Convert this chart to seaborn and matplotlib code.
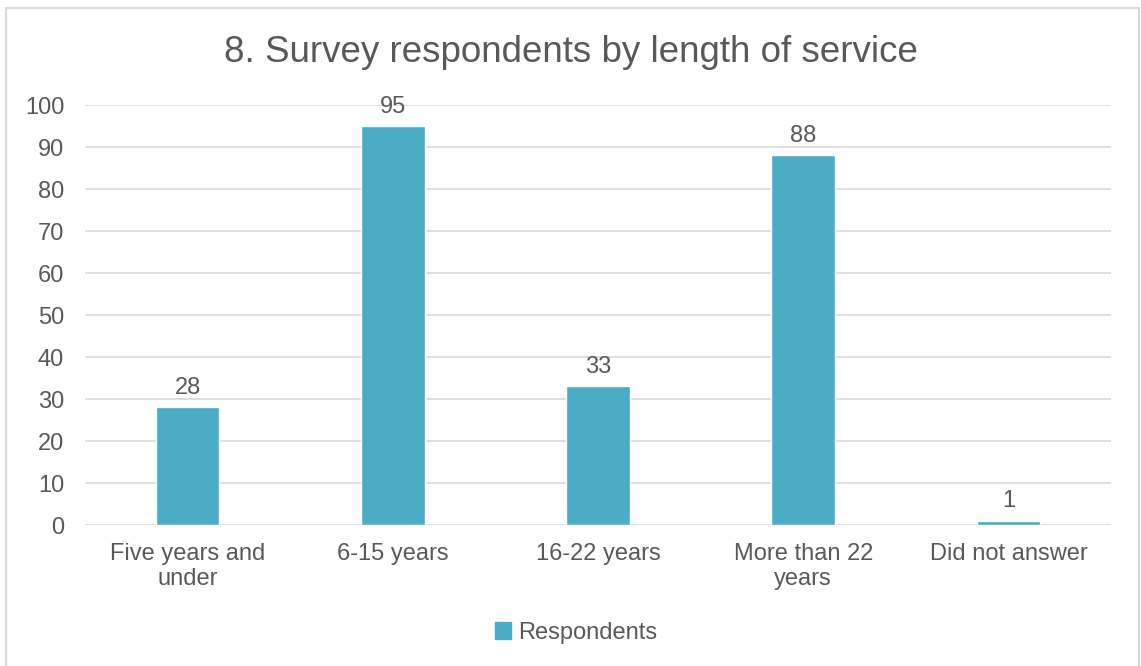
import matplotlib.pyplot as plt
import matplotlib.patches as mpatches
import seaborn as sns

# data
categories = ["Five years and\nunder", "6-15 years", "16-22 years", "More than 22\nyears", "Did not answer"]
respondents = [28, 95, 33, 88, 1]
series_name = "Respondents"
title = "8. Survey respondents by length of service"

bar_color = "#4BACC6"
text_color = "#595959"
grid_color = "#D9D9D9"

sns.set_theme(style="white")
plt.rcParams['font.family'] = ['Liberation Sans', 'DejaVu Sans']

fig = plt.figure(figsize=(11.41, 6.66), dpi=100)
ax = fig.add_axes([85 / 1141, 1 - 525 / 666, 1026 / 1141, 420 / 666])

sns.barplot(x=categories, y=respondents, color=bar_color, width=0.31,
            saturation=1, ax=ax)

ax.set_ylim(0, 100)
ax.set_yticks(range(0, 101, 10))
ax.yaxis.grid(True, color=grid_color, linewidth=1.2)
ax.set_axisbelow(True)
for s in ax.spines.values():
    s.set_visible(False)
ax.tick_params(axis='y', length=0, pad=15, labelsize=17, labelcolor=text_color)
ax.tick_params(axis='x', length=0, pad=13, labelsize=17, labelcolor=text_color)
for lbl in ax.get_xticklabels():
    lbl.set_linespacing(1.15)
ax.set_xlabel("")
ax.set_ylabel("")

for c in ax.containers:
    ax.bar_label(c, padding=6, fontsize=17, color=text_color)

fig.suptitle(title, fontsize=26.5, color=text_color, y=1 - 53 / 666, va='center')

handle = mpatches.Patch(color=bar_color, label=series_name)
fig.legend(handles=[handle], loc='center', bbox_to_anchor=(0.505, 1 - 633 / 666),
           frameon=False, fontsize=17, labelcolor=text_color,
           handlelength=0.7, handleheight=0.7, handletextpad=0.3)

# outer chart border
fig.patches.append(mpatches.Rectangle((6 / 1141, -0.05), 1133 / 1141, 1.05 - 8 / 666,
                                      transform=fig.transFigure, fill=False,
                                      edgecolor=grid_color, linewidth=1.5))

fig.savefig("out.png", dpi=100, facecolor="white")
